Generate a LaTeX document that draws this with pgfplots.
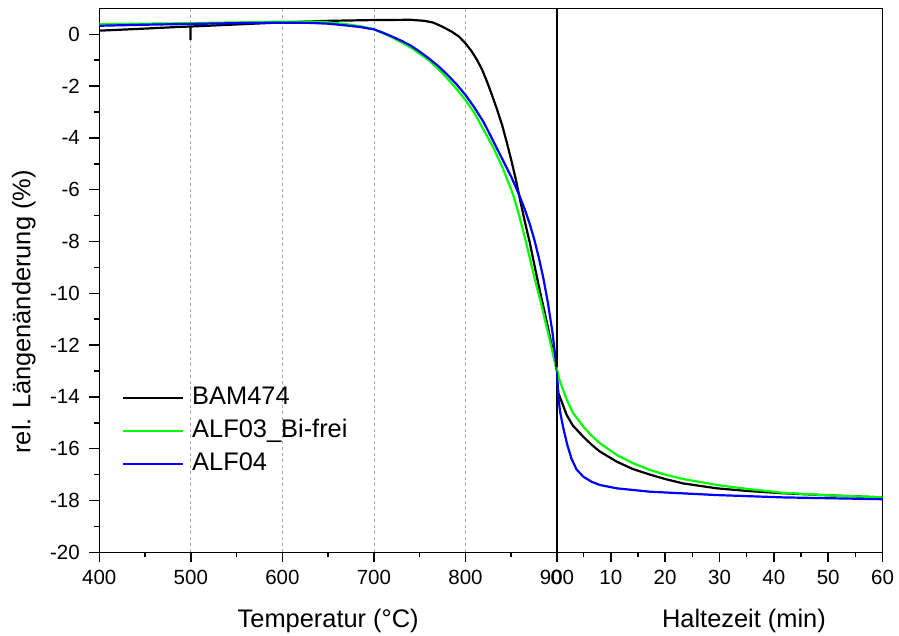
\documentclass[border=0pt]{standalone}
\usepackage{pgfplots}
\pgfplotsset{compat=1.18}
\usepackage{fontspec}
\setmainfont{Liberation Sans}
\newcommand\tickf{\fontsize{20.5}{24}\selectfont}
\newcommand\labf{\fontsize{25.4}{30}\selectfont}
\definecolor{cgreen}{RGB}{0,255,0}
\definecolor{cblue}{RGB}{0,0,255}
\definecolor{cgrid}{RGB}{165,165,165}
\pgfplotsset{
  common/.style={
    scale only axis, height=543.9pt, anchor=south west,
    ymin=-20, ymax=1,
    axis line style={line width=1.5pt, black},
    tick align=outside, tick pos=left,
    major tick length=10pt, minor tick length=5pt,
    tick style={line width=1.5pt, black},
    xticklabel style={font=\tickf, anchor=base, inner sep=0pt, yshift=-22.4pt},
    yticklabel style={font=\tickf, anchor=east, inner sep=0pt, xshift=-9.3pt},
    clip=true,
  }
}
\begin{document}
\begin{tikzpicture}
\useasboundingbox (0pt,0pt) rectangle (899pt,635pt);
\begin{axis}[common, at={(99.3pt,82.7pt)}, width=457.7pt,
  xmin=400, xmax=900,
  xtick={400,500,600,700,800,900}, xticklabels={400,500,600,700,800,900},
  minor x tick num=1,
  ytick={-20,-18,-16,-14,-12,-10,-8,-6,-4,-2,0},
  yticklabels={-20,-18,-16,-14,-12,-10,-8,-6,-4,-2,0},
  minor y tick num=1,
  extra x ticks={500,600,700,800}, extra x tick labels={},
  extra x tick style={grid=major, major tick length=0pt},
  grid style={dashed, cgrid, line width=0.8pt},
  xlabel={Temperatur (°C)},
  xlabel style={font=\labf, at={(axis description cs:0.5,-0.1384)}, anchor=base},
  ylabel={rel. Längenänderung (\%)},
  ylabel style={font=\labf, at={(axis description cs:-0.165,0.442)}, anchor=center},
  legend style={draw=none, fill=none, at={(axis description cs:0.049,0.3045)}, anchor=north west,
    inner sep=0pt, outer sep=0pt, font=\labf, row sep=9.4pt, column sep=8.3pt,
    nodes={inner sep=0pt, text height=18.3pt, text depth=5pt}},
  legend cell align=left,
  legend image code/.code={\draw[line width=2.2pt] (0pt,0pt) -- (60pt,0pt);},
]
\addplot[black, line width=2.2pt] coordinates {
(400,0.14) (450,0.22) (490,0.29) (499.5,0.30) (499.6,-0.22) (499.7,0.30)
(550,0.38) (600,0.46) (650,0.52) (700,0.55) (740,0.56) (755,0.52) (765,0.45)
(775,0.29) (785,0.10) (793,-0.09) (800,-0.35) (806,-0.62) (812,-0.95) (818,-1.35)
(823,-1.78) (828,-2.25) (834,-2.85) (840,-3.5) (845,-4.15) (850,-4.85) (855,-5.6)
(860,-6.45) (865,-7.25) (870,-8.0) (875,-8.85) (880,-9.7) (885,-10.5) (890,-11.3)
(895,-12.15) (900,-13.0)};
\addlegendentry{BAM474}
\addplot[cgreen, line width=2.2pt] coordinates {
(400,0.39) (450,0.41) (500,0.43) (550,0.46) (600,0.49) (630,0.49) (650,0.46)
(670,0.39) (685,0.31) (700,0.20) (720,-0.12) (740,-0.50) (760,-1.0) (775,-1.5)
(790,-2.1) (800,-2.54) (810,-3.05) (820,-3.7) (830,-4.34) (840,-5.1) (846,-5.64)
(851.5,-6.14) (858,-6.91) (866,-8.0) (876,-9.49) (882,-10.3) (888,-11.2) (894,-12.1) (900,-13.0)};
\addlegendentry{ALF03\_Bi-frei}
\addplot[cblue, line width=2.2pt] coordinates {
(400,0.33) (450,0.37) (500,0.40) (550,0.43) (600,0.45) (630,0.44) (650,0.41)
(670,0.34) (685,0.28) (700,0.19) (710,0.06) (720,-0.09) (730,-0.25) (740,-0.43)
(750,-0.67) (760,-0.93) (770,-1.22) (780,-1.55) (790,-1.92) (800,-2.34) (810,-2.84)
(820,-3.4) (830,-4.1) (840,-4.8) (850,-5.5) (855,-5.9) (860,-6.32) (865,-6.78)
(870,-7.3) (875,-7.9) (880,-8.6) (885,-9.4) (890,-10.35) (895,-11.5) (900,-13.0)};
\addlegendentry{ALF04}
\end{axis}
\begin{axis}[common, at={(556.4pt,82.7pt)}, width=326.2pt,
  xmin=0, xmax=60,
  xtick={0,10,20,30,40,50,60}, xticklabels={0,10,20,30,40,50,60},
  minor x tick num=1, ytick=\empty,
  xlabel={Haltezeit (min)},
  xlabel style={font=\labf, at={(axis description cs:0.575,-0.1384)}, anchor=base},
]
\addplot[black, line width=2.2pt] coordinates {
(0,-13.0) (0.35,-13.85) (1,-14.2) (1.9,-14.7) (3,-15.1) (4.95,-15.54) (6.5,-15.85)
(8,-16.11) (11.1,-16.5) (14,-16.78) (17.2,-17.0) (20,-17.17) (23.3,-17.34)
(29.5,-17.53) (35,-17.63) (41.7,-17.72) (50,-17.8) (60,-17.88)};
\addplot[cgreen, line width=2.2pt] coordinates {
(0,-12.85) (0.5,-13.3) (1,-13.6) (1.9,-14.1) (3,-14.6) (4.95,-15.15) (6.5,-15.5)
(8,-15.79) (11.1,-16.24) (14,-16.55) (17.2,-16.82) (20,-17.0) (23.3,-17.17)
(29.5,-17.4) (35,-17.55) (41.7,-17.7) (50,-17.8) (60,-17.88)};
\addplot[cblue, line width=2.2pt] coordinates {
(0,-13.0) (0.2,-13.5) (0.35,-14.0) (0.7,-14.6) (1.27,-15.2) (2,-15.85) (2.8,-16.4)
(3.7,-16.8) (4.95,-17.08) (6.5,-17.28) (8,-17.4) (11.1,-17.53) (17.2,-17.66)
(29.5,-17.79) (41.7,-17.88) (60,-17.95)};
\end{axis}
\end{tikzpicture}
\end{document}
